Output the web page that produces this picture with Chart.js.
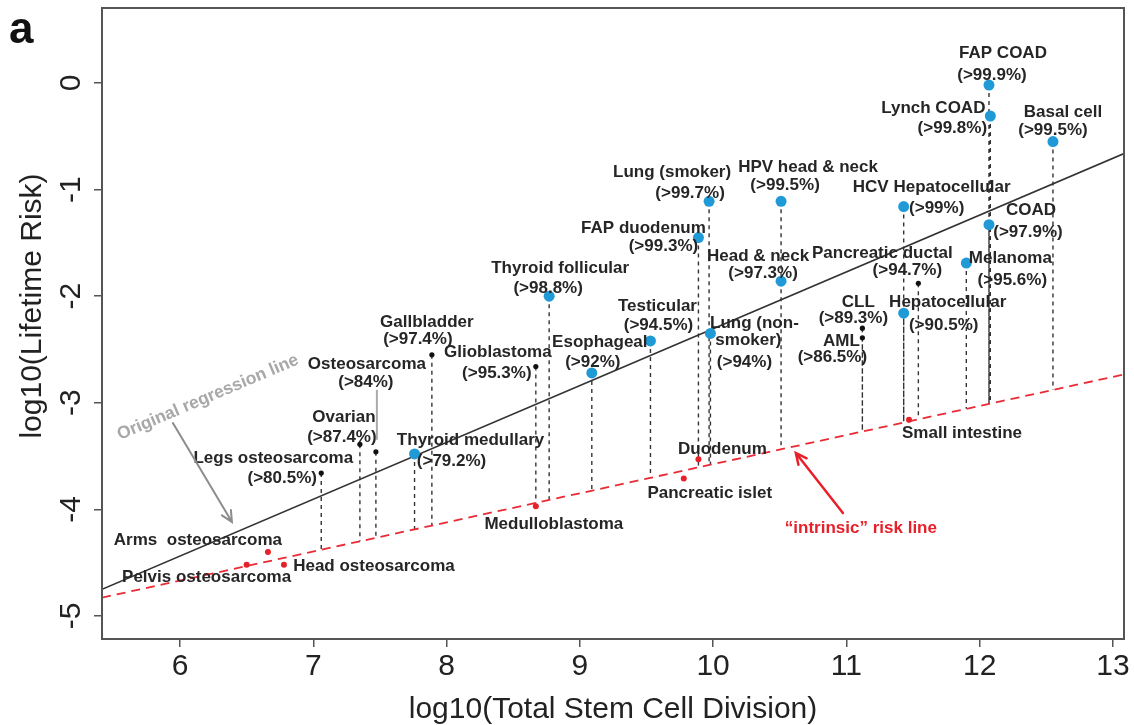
<!DOCTYPE html>
<html>
<head>
<meta charset="utf-8">
<script src="https://cdn.jsdelivr.net/npm/chart.js@4.4.1/dist/chart.umd.min.js"></script>
<style>
  html, body { margin: 0; padding: 0; background: #fff; }
  canvas { display: block; }
</style>
</head>
<body>
<canvas id="chart" width="1134" height="725"></canvas>
<script>
// ========== DATOS ==========
const cancers = ['FAP COAD', 'Lynch COAD', 'Basal cell', 'HPV head & neck', 'Lung (smoker)',
  'HCV Hepatocellular', 'COAD', 'FAP duodenum', 'Melanoma', 'Head & neck', 'Thyroid follicular',
  'Hepatocellular', 'Lung (non-\nsmoker)', 'Testicular', 'Esophageal', 'Thyroid medullary',
  'Pancreatic ductal', 'CLL', 'AML', 'Gallbladder', 'Glioblastoma', 'Osteosarcoma', 'Ovarian',
  'Legs osteosarcoma', 'Medulloblastoma', 'Duodenum', 'Pancreatic islet', 'Small intestine',
  'Arms  osteosarcoma', 'Pelvis osteosarcoma', 'Head osteosarcoma'];
const logDivisions = [12.07, 12.08, 12.55, 10.51, 9.97, 11.43, 12.07, 9.89, 11.90, 10.51, 8.77,
  11.43, 9.98, 9.53, 9.09, 7.76, 11.54, 11.12, 11.12, 7.89, 8.67, 7.47, 7.35,
  7.06, 8.67, 9.89, 9.78, 11.47, 6.66, 6.50, 6.78];
const logRisk = [-0.02, -0.31, -0.55, -1.11, -1.11, -1.16, -1.33, -1.45, -1.69, -1.86, -2.00,
  -2.16, -2.35, -2.42, -2.72, -3.48, -1.88, -2.30, -2.39, -2.55, -2.66, -3.46, -3.39,
  -3.66, -3.97, -3.53, -3.71, -3.16, -4.40, -4.52, -4.52];
const extrinsicShare = ['>99.9%', '>99.8%', '>99.5%', '>99.5%', '>99.7%', '>99%', '>97.9%', '>99.3%',
  '>95.6%', '>97.3%', '>98.8%', '>90.5%', '>94%', '>94.5%', '>92%', '>79.2%', '>94.7%', '>89.3%',
  '>86.5%', '>97.4%', '>95.3%', '>84%', '>87.4%', '>80.5%', null, null, null, null, null, null, null];
// B = azul, K = negro, R = rojo (sobre la línea intrínseca)
const group = ['B','B','B','B','B','B','B','B','B','B','B','B','B','B','B','B',
  'K','K','K','K','K','K','K','K','R','R','R','R','R','R','R'];

// líneas
const regressionX = [5.415, 13.083];
const regressionY = [-4.75, -0.662];
const intrinsicX = [5.415, 13.083];
const intrinsicY = [-4.828, -2.734];

// ejes
const xTicks = [6, 7, 8, 9, 10, 11, 12, 13];
const yTicks = [0, -1, -2, -3, -4, -5];
const xRange = [5.415, 13.083];
const yRange = [-5.216, 0.703];

// ========== DISPOSICIÓN DE ETIQUETAS (px relativos al punto) ==========
const labelOffsets = [
  [[14, -32], [3, -10]],
  [[-57, -8], [-38, 12]],
  [[10, -29], [0, -11]],
  [[27, -34], [4, -16]],
  [[-37, -29], [-19, -8]],
  [[28, -19], [33, 2]],
  [[42, -14], [39, 8]],
  [[-55, -9], [-35, 9]],
  [[44, -5], [46, 17]],
  [[-23, -25], [-18, -8]],
  [[11, -28], [-1, -8]],
  [[44, -11], [40, 12]],
  [[44, -10], [38, 7], [34, 29]],
  [[7, -35], [8, -16]],
  [[8, -31], [1, -11]],
  [[56, -14], [37, 7]],
  [[-36, -30], [-11, -13]],
  [[-4, -26], [-9, -10]],
  [[-21, 4], [-30, 20]],
  [[-5, -32], [-14, -15]],
  [[-38, -14], [-39, 7]],
  [[-9, -87], [-10, -69]],
  [[-16, -27], [-18, -7]],
  [[-48, -15], [-39, 5]],
  [[18, 18]],
  [[24, -10]],
  [[26, 15]],
  [[53, 13]],
  [[-70, -12]],
  [[-40, 13]],
  [[90, 2]]
];

const FONT = '"Liberation Sans", Arial, Helvetica, sans-serif';
Chart.defaults.font.family = FONT;

function intrinsicAt(x) {
  const t = (x - intrinsicX[0]) / (intrinsicX[1] - intrinsicX[0]);
  return intrinsicY[0] + t * (intrinsicY[1] - intrinsicY[0]);
}

function pointsOf(g) {
  const out = [];
  cancers.forEach((c, i) => { if (group[i] === g) out.push({ x: logDivisions[i], y: logRisk[i] }); });
  return out;
}

// líneas verticales discontinuas hasta la línea intrínseca
const dropData = [];
cancers.forEach((c, i) => {
  if (group[i] === 'R') return;
  dropData.push({ x: logDivisions[i], y: logRisk[i] });
  dropData.push({ x: logDivisions[i], y: intrinsicAt(logDivisions[i]) });
  dropData.push({ x: logDivisions[i], y: null });
});

function arrow(ctx, x1, y1, x2, y2, color, width) {
  const a = Math.atan2(y2 - y1, x2 - x1), L = 12, s = 0.45;
  ctx.save();
  ctx.strokeStyle = color; ctx.lineWidth = width; ctx.lineCap = 'round';
  ctx.beginPath();
  ctx.moveTo(x1, y1); ctx.lineTo(x2, y2);
  ctx.moveTo(x2 - L * Math.cos(a - s), y2 - L * Math.sin(a - s));
  ctx.lineTo(x2, y2);
  ctx.lineTo(x2 - L * Math.cos(a + s), y2 - L * Math.sin(a + s));
  ctx.stroke();
  ctx.restore();
}

const decorPlugin = {
  id: 'decor',
  afterDatasetsDraw(chart) {
    const { ctx, chartArea: ca, scales: { x, y } } = chart;

    // marco
    ctx.save();
    ctx.strokeStyle = '#555'; ctx.lineWidth = 2;
    ctx.strokeRect(ca.left, ca.top, ca.right - ca.left, ca.bottom - ca.top);
    ctx.restore();

    // etiquetas de cada cáncer
    ctx.save();
    ctx.font = 'bold 17px ' + FONT;
    ctx.fillStyle = '#262626';
    ctx.textAlign = 'center';
    ctx.textBaseline = 'middle';
    cancers.forEach((c, i) => {
      const px = x.getPixelForValue(logDivisions[i]);
      const py = y.getPixelForValue(logRisk[i]);
      const lines = c.split('\n');
      if (extrinsicShare[i]) lines.push('(' + extrinsicShare[i] + ')');
      lines.forEach((t, k) => {
        const o = labelOffsets[i][k];
        ctx.fillText(t, px + o[0], py + o[1]);
      });
    });
    ctx.restore();

    // puntero gris de Osteosarcoma
    const oi = cancers.indexOf('Osteosarcoma');
    const ox = x.getPixelForValue(logDivisions[oi]), oy = y.getPixelForValue(logRisk[oi]);
    ctx.save();
    ctx.strokeStyle = '#aaa'; ctx.lineWidth = 2;
    ctx.beginPath(); ctx.moveTo(ox + 1, oy - 62); ctx.lineTo(ox + 1, oy - 12); ctx.stroke();
    ctx.restore();

    // "Original regression line"
    ctx.save();
    ctx.translate(x.getPixelForValue(6.21), y.getPixelForValue(-2.95));
    ctx.rotate(-23 * Math.PI / 180);
    ctx.font = 'bold 17.5px ' + FONT;
    ctx.fillStyle = '#a8a8a8';
    ctx.textAlign = 'center'; ctx.textBaseline = 'middle';
    ctx.fillText('Original regression line', 0, 0);
    ctx.restore();
    arrow(ctx, x.getPixelForValue(5.947), y.getPixelForValue(-3.19),
      x.getPixelForValue(6.39), y.getPixelForValue(-4.118), '#8c8c8c', 2);

    // "intrinsic" risk line
    arrow(ctx, x.getPixelForValue(10.974), y.getPixelForValue(-4.035),
      x.getPixelForValue(10.621), y.getPixelForValue(-3.471), '#e8202a', 2.5);
    ctx.save();
    ctx.font = 'bold 17px ' + FONT;
    ctx.fillStyle = '#e8202a';
    ctx.textAlign = 'center'; ctx.textBaseline = 'middle';
    ctx.fillText('\u201Cintrinsic\u201D risk line', x.getPixelForValue(11.109), y.getPixelForValue(-4.175));
    ctx.restore();

    // título eje Y y letra del panel
    ctx.save();
    ctx.fillStyle = '#222';
    ctx.font = '30px ' + FONT;
    ctx.translate(33, 306);
    ctx.rotate(-Math.PI / 2);
    ctx.textAlign = 'center'; ctx.textBaseline = 'middle';
    ctx.fillText('log10(Lifetime Risk)', 0, 0);
    ctx.restore();
    ctx.save();
    ctx.fillStyle = '#111';
    ctx.font = 'bold 44px ' + FONT;
    ctx.textAlign = 'left'; ctx.textBaseline = 'alphabetic';
    ctx.fillText('a', 9, 43);
    ctx.restore();
  }
};

new Chart(document.getElementById('chart').getContext('2d'), {
  type: 'scatter',
  data: {
    datasets: [
      { label: 'blue', data: pointsOf('B'), backgroundColor: '#1f9ad6', pointRadius: 5.5, pointBorderWidth: 0, order: 0 },
      { label: 'black', data: pointsOf('K'), backgroundColor: '#111', pointRadius: 2.6, pointBorderWidth: 0, order: 1 },
      { label: 'red', data: pointsOf('R'), backgroundColor: '#e8202a', pointRadius: 3, pointBorderWidth: 0, order: 2 },
      { type: 'line', label: 'intrinsic', data: intrinsicX.map((v, i) => ({ x: v, y: intrinsicY[i] })),
        borderColor: '#ea2a35', borderWidth: 1.8, borderDash: [9, 6], pointRadius: 0, order: 3 },
      { type: 'line', label: 'regression', data: regressionX.map((v, i) => ({ x: v, y: regressionY[i] })),
        borderColor: '#333', borderWidth: 1.6, pointRadius: 0, order: 4 },
      { type: 'line', label: 'drops', data: dropData, borderColor: '#333', borderWidth: 1.4,
        borderDash: [4, 4], pointRadius: 0, spanGaps: false, order: 5 }
    ]
  },
  options: {
    responsive: false,
    devicePixelRatio: 1,
    animation: false,
    events: [],
    layout: { padding: { top: 8, right: 10, left: 0, bottom: 0 } },
    plugins: { legend: { display: false }, tooltip: { enabled: false } },
    scales: {
      x: {
        type: 'linear', min: xRange[0], max: xRange[1],
        afterBuildTicks: s => { s.ticks = xTicks.map(v => ({ value: v })); },
        afterFit: s => { s.height = 86; s.paddingLeft = 0; s.paddingRight = 0; },
        grid: { drawOnChartArea: false, drawTicks: true, tickLength: 8, color: '#555', lineWidth: 1.5 },
        border: { display: false },
        ticks: { font: { size: 30 }, color: '#222', padding: 2, maxRotation: 0, callback: v => String(v) },
        title: { display: true, text: 'log10(Total Stem Cell Division)', color: '#222',
          font: { size: 30, lineHeight: 1 }, padding: { top: 0, bottom: 0 } }
      },
      y: {
        type: 'linear', min: yRange[0], max: yRange[1],
        afterBuildTicks: s => { s.ticks = yTicks.map(v => ({ value: v })); },
        afterFit: s => { s.width = 102; s.paddingTop = 0; s.paddingBottom = 0; },
        grid: { drawOnChartArea: false, drawTicks: true, tickLength: 8, color: '#555', lineWidth: 1.5 },
        border: { display: false },
        ticks: { font: { size: 30 }, color: '#222', padding: 9, minRotation: 90, maxRotation: 90,
          crossAlign: 'center', callback: v => String(v) }
      }
    }
  },
  plugins: [decorPlugin]
});
</script>
</body>
</html>
